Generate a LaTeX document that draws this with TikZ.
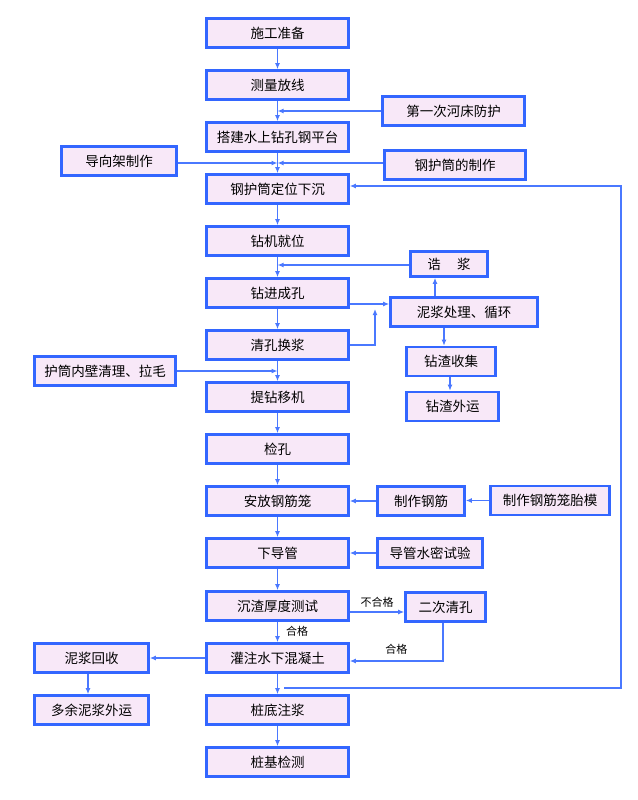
\documentclass[tikz,border=0pt]{standalone}
\usepackage{fontspec}
\setmainfont{Noto Sans CJK SC}
\usetikzlibrary{arrows.meta}
\definecolor{boxBlue}{HTML}{3366FF}
\definecolor{boxFill}{HTML}{F8E8F8}
\definecolor{lineBlue}{HTML}{4A78FF}

\begin{document}
\begin{tikzpicture}
  [x=1pt,y=-1pt,
   flowN/.style={draw=boxBlue,fill=boxFill,line width=2.6pt,minimum height=29pt,inner sep=0pt,font=\fontsize{13.5}{13.5}\selectfont},
   mainN/.style={flowN,minimum width=142pt},
   link/.style={lineBlue,line width=1.4pt,-{Latex[length=6pt,width=5pt]}},
   lbl/.style={text=black,font=\fontsize{11}{11}\selectfont,inner sep=0pt},
  ]
 \useasboundingbox (0,0) rectangle (637,800);

 % main column
 \node[mainN] (prep)     at (277.5,33)  {施工准备};
 \node[mainN] (survey)   at (277.5,85)  {测量放线};
 \node[mainN] (platform) at (277.5,137) {搭建水上钻孔钢平台};
 \node[mainN] (casing)   at (277.5,189) {钢护筒定位下沉};
 \node[mainN] (rig)      at (277.5,241) {钻机就位};
 \node[mainN] (drill)    at (277.5,293) {钻进成孔};
 \node[mainN] (clean)    at (277.5,345) {清孔换浆};
 \node[mainN] (lift)     at (277.5,397) {提钻移机};
 \node[mainN] (check)    at (277.5,449) {检孔};
 \node[mainN] (cage)     at (277.5,501) {安放钢筋笼};
 \node[mainN] (pipe)     at (277.5,553) {下导管};
 \node[mainN] (sed)      at (277.5,606) {沉渣厚度测试};
 \node[mainN] (pour)     at (277.5,658) {灌注水下混凝土};
 \node[mainN] (grout)    at (277.5,710) {桩底注浆};
 \node[mainN] (test)     at (277.5,762) {桩基检测};

 % side boxes
 \node[flowN,minimum width=142pt] (guard)   at (453.5,111) {第一次河床防护};
 \node[flowN,minimum width=115pt] (guide)   at (119,161)   {导向架制作};
 \node[flowN,minimum width=141pt] (casemk)  at (455,165)   {钢护筒的制作};
 \node[flowN,minimum width=77pt,minimum height=25pt] (mudmk) at (449,264) {诰\hspace{1.2em}浆};
 \node[flowN,minimum width=147pt] (mudproc) at (464,312)   {泥浆处理、循环};
 \node[flowN,minimum width=89pt]  (chipcol) at (451,361.5) {钻渣收集};
 \node[flowN,minimum width=92pt]  (chipout) at (452.5,406.5) {钻渣外运};
 \node[flowN,minimum width=141pt] (wall)    at (105,371)   {护筒内壁清理、拉毛};
 \node[flowN,minimum width=87pt]  (rebar)   at (421,501)   {制作钢筋};
 \node[flowN,minimum width=119pt] (mould)   at (550,500.5) {制作钢筋笼胎模};
 \node[flowN,minimum width=105pt] (seal)    at (430,553)   {导管水密试验};
 \node[flowN,minimum width=80pt]  (reclean) at (445.5,607) {二次清孔};
 \node[flowN,minimum width=114pt] (mudrec)  at (91.5,658)  {泥浆回收};
 \node[flowN,minimum width=114pt] (mudout)  at (91.5,710)  {多余泥浆外运};

 % joints
 \coordinate (j1) at (277.5,163);
 \coordinate (mj) at (375,309);
 \coordinate (ret) at (284,688);

 % main flow
 \draw[link] (prep) -- (survey);
 \draw[link] (survey) -- (platform);
 \draw[link] (platform) -- (casing);
 \draw[link] (casing) -- (rig);
 \draw[link] (rig) -- (drill);
 \draw[link] (drill) -- (clean);
 \draw[link] (clean) -- (lift);
 \draw[link] (lift) -- (check);
 \draw[link] (check) -- (cage);
 \draw[link] (cage) -- (pipe);
 \draw[link] (pipe) -- (sed);
 \draw[link] (sed) -- node[lbl,right=8pt,pos=0.45]{合格} (pour);
 \draw[link] (pour) -- (grout);
 \draw[link] (grout) -- (test);

 % side flows
 \draw[link] (guard.west) -- (guard.west -| survey.south);
 \draw[link] (guide.east |- j1) -- (j1);
 \draw[link] (casemk.west |- j1) -- (j1);
 \draw[link] ([yshift=-1pt]mudmk.west) -- ([yshift=-1pt]mudmk.west -| rig.south);
 \draw[link] ([yshift=-11pt]drill.east) -- ([yshift=-11pt]drill.east -| mudproc.west);
 \draw[link] (clean.east) -| (mj);
 \draw[link] (mudproc.north -| 435,0) -- (mudmk.south -| 435,0);
 \draw[link] (mudproc.south -| 444,0) -- (chipcol.north -| 444,0);
 \draw[link] (chipcol.south -| 450,0) -- (chipout.north -| 450,0);
 \draw[link] (wall.east) -- (wall.east -| lift.north);
 \draw[link] (rebar.west) -- (rebar.west -| cage.east);
 \draw[link] (mould.west) -- (mould.west -| rebar.east);
 \draw[link] (seal) -- (pipe);
 \draw[link] ([yshift=-6pt]sed.east) -- node[lbl,above=4pt]{不合格} ([yshift=-6pt]sed.east -| reclean.west);
 \draw[link] (reclean.south -| 443,0) |- node[lbl,pos=0.75,above=6pt]{合格} ([yshift=-3pt]pour.east);
 \draw[link] (pour.west) -- (mudrec.east);
 \draw[link] (mudrec.south -| 88,0) -- (mudout.north -| 88,0);
 \draw[link] (ret) -- (621,688) |- ([yshift=3pt]casing.east);
\end{tikzpicture}
\end{document}
